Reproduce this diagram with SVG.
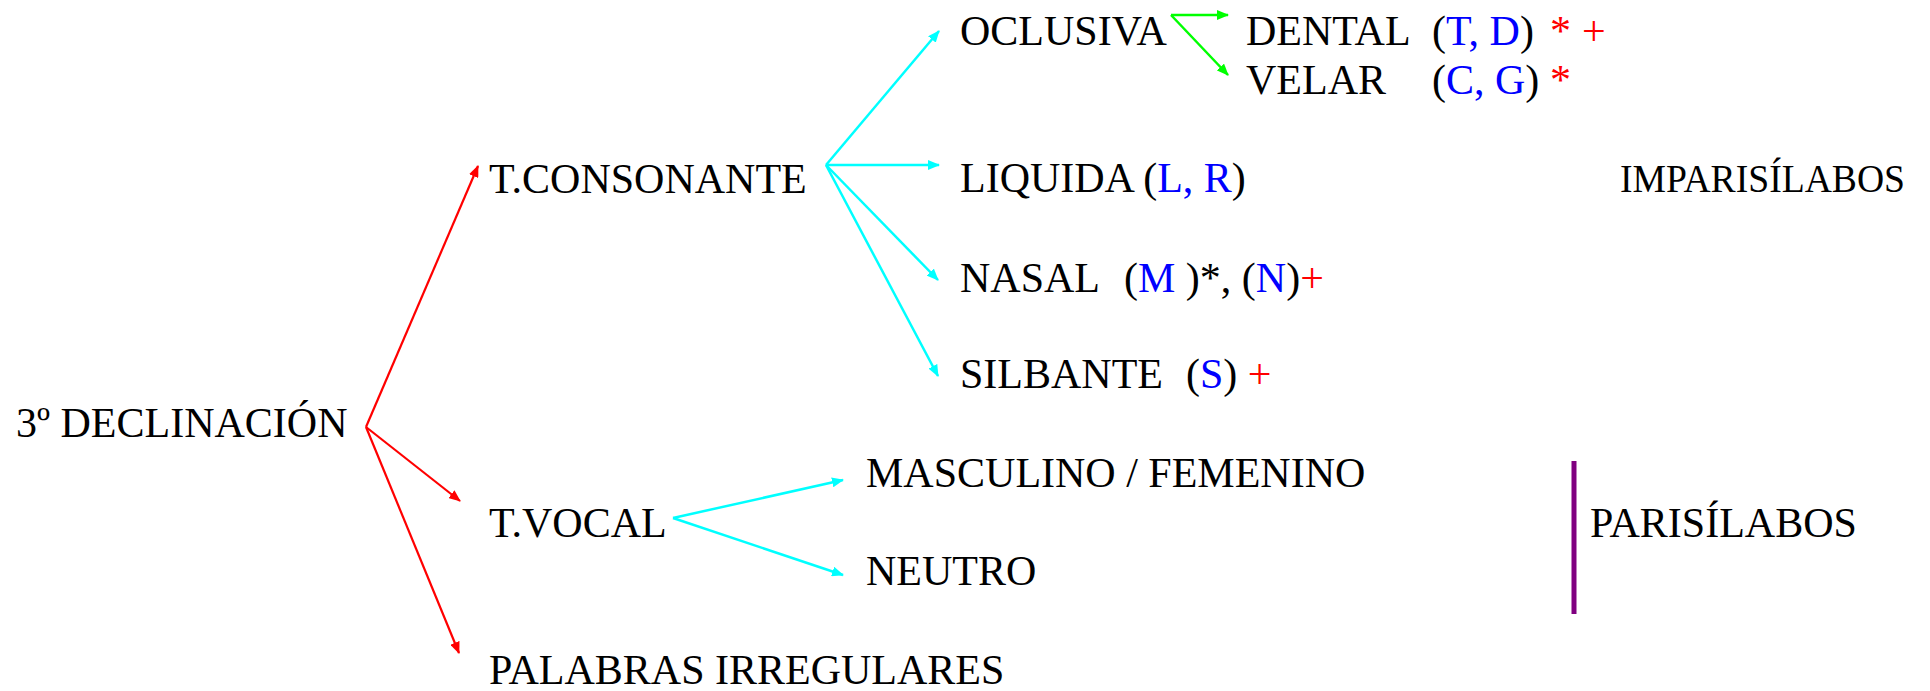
<svg xmlns="http://www.w3.org/2000/svg" width="1930" height="691" viewBox="0 0 1930 691">
<style>
.t{font-family:"Liberation Serif",serif;font-size:42px;fill:#000}
.b{fill:#0000FF}.r{fill:#FF0000}
.red{stroke:#FF0000;stroke-width:2.2;fill:none}
.cy{stroke:#00FFFF;stroke-width:2.5;fill:none}
.gr{stroke:#00FF00;stroke-width:2.5;fill:none}
</style>
<defs>
<marker id="ar" markerUnits="userSpaceOnUse" markerWidth="12" markerHeight="10" refX="11" refY="5" orient="auto"><path d="M0,0 L12,5 L0,10 Z" fill="#FF0000"/></marker>
<marker id="ac" markerUnits="userSpaceOnUse" markerWidth="12" markerHeight="10" refX="11" refY="5" orient="auto"><path d="M0,0 L12,5 L0,10 Z" fill="#00FFFF"/></marker>
<marker id="ag" markerUnits="userSpaceOnUse" markerWidth="12" markerHeight="10" refX="11" refY="5" orient="auto"><path d="M0,0 L12,5 L0,10 Z" fill="#00FF00"/></marker>
</defs>
<g id="connectors">
<line class="red" x1="366" y1="427" x2="478" y2="166" marker-end="url(#ar)"/>
<line class="red" x1="366" y1="427" x2="460" y2="501" marker-end="url(#ar)"/>
<line class="red" x1="366" y1="427" x2="459" y2="653" marker-end="url(#ar)"/>
<line class="cy" x1="826" y1="165" x2="939" y2="31" marker-end="url(#ac)"/>
<line class="cy" x1="826" y1="165" x2="939" y2="165" marker-end="url(#ac)"/>
<line class="cy" x1="826" y1="165" x2="938" y2="280" marker-end="url(#ac)"/>
<line class="cy" x1="826" y1="165" x2="938" y2="376" marker-end="url(#ac)"/>
<line class="cy" x1="673" y1="518" x2="843" y2="480" marker-end="url(#ac)"/>
<line class="cy" x1="673" y1="518" x2="843" y2="575" marker-end="url(#ac)"/>
<line class="gr" x1="1171" y1="15" x2="1228" y2="15" marker-end="url(#ag)"/>
<line class="gr" x1="1171" y1="15" x2="1228" y2="75" marker-end="url(#ag)"/>
<line x1="1574" y1="461" x2="1574" y2="614" stroke="#800080" stroke-width="5"/>
</g>
<g id="n-declinacion"><text class="t" x="16" y="437">3º DECLINACIÓN</text></g>
<g id="n-consonante"><text class="t" x="489" y="193">T.CONSONANTE</text></g>
<g id="n-vocal"><text class="t" x="489" y="537">T.VOCAL</text></g>
<g id="n-irregulares"><text class="t" x="489" y="684">PALABRAS IRREGULARES</text></g>
<g id="n-oclusiva"><text class="t" x="960" y="45">OCLUSIVA</text></g>
<g id="n-dental"><text class="t" x="1246" y="45">DENTAL<tspan x="1432">(</tspan><tspan class="b">T, D</tspan>)<tspan class="r" x="1550">*</tspan><tspan class="r" x="1582">+</tspan></text></g>
<g id="n-velar"><text class="t" x="1246" y="94">VELAR<tspan x="1432">(</tspan><tspan class="b">C, G</tspan>)<tspan class="r" x="1550">*</tspan></text></g>
<g id="n-liquida"><text class="t" x="960" y="192">LIQUIDA (<tspan class="b">L, R</tspan>)</text></g>
<g id="n-nasal"><text class="t" x="960" y="292">NASAL<tspan x="1124">(</tspan><tspan class="b">M</tspan> )*, (<tspan class="b">N</tspan>)<tspan class="r">+</tspan></text></g>
<g id="n-silbante"><text class="t" x="960" y="388">SILBANTE<tspan x="1186">(</tspan><tspan class="b">S</tspan>) <tspan class="r">+</tspan></text></g>
<g id="n-imparisilabos"><text class="t" style="font-size:39px" x="1620" y="192" textLength="285" lengthAdjust="spacingAndGlyphs">IMPARISÍLABOS</text></g>
<g id="n-masculino"><text class="t" x="866" y="487">MASCULINO / FEMENINO</text></g>
<g id="n-neutro"><text class="t" x="866" y="585">NEUTRO</text></g>
<g id="n-parisilabos"><text class="t" x="1590" y="537">PARISÍLABOS</text></g>
</svg>
